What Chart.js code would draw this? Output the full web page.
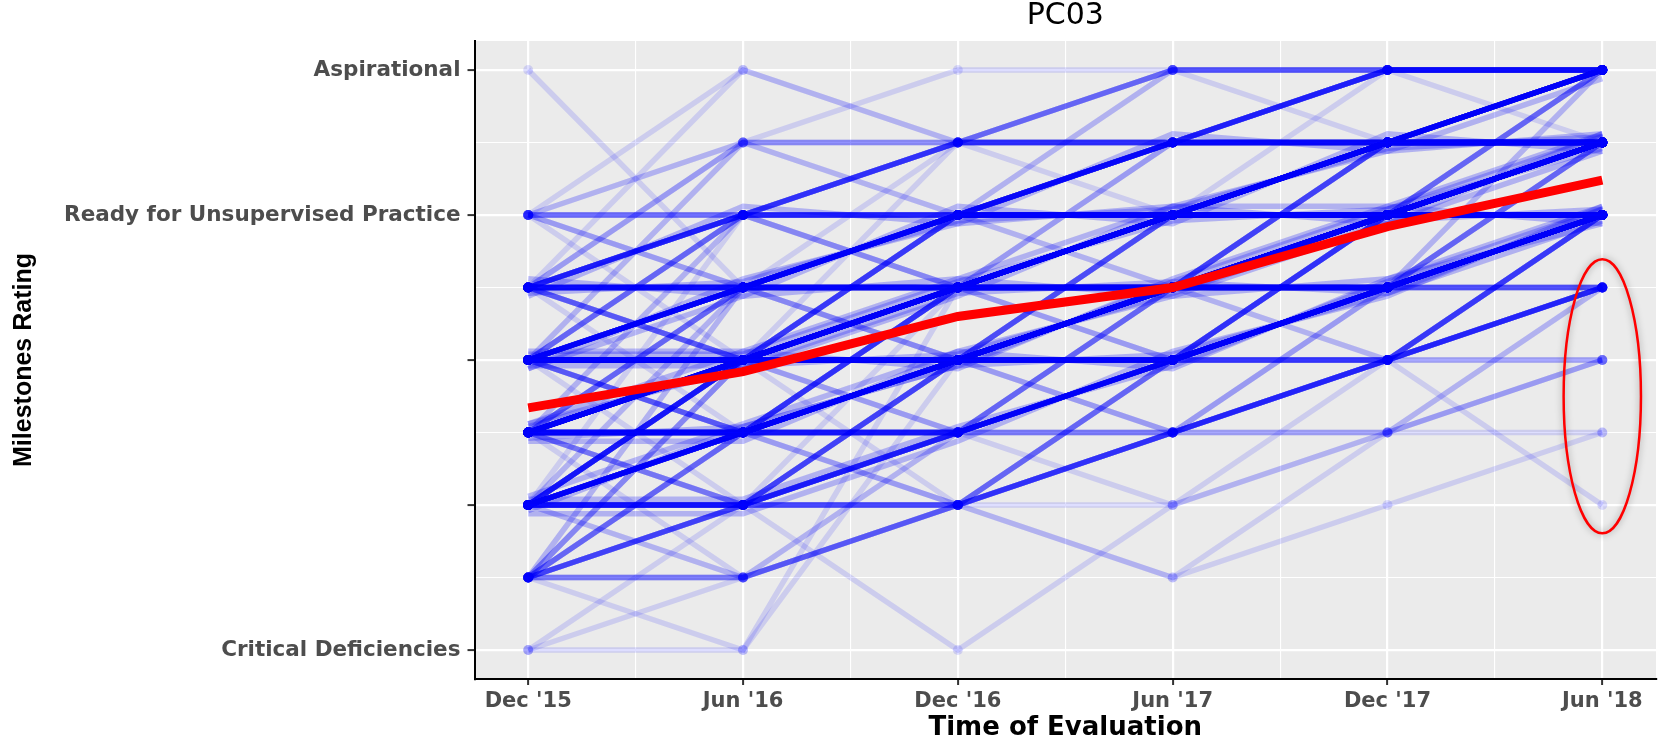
<!DOCTYPE html>
<html>
<head>
<meta charset="utf-8">
<title>PC03</title>
<script src="https://cdn.jsdelivr.net/npm/chart.js@4.4.1/dist/chart.umd.min.js"></script>
<style>
  html, body { margin: 0; padding: 0; background: #fff; }
  #wrap { width: 1661px; height: 742px; }
</style>
</head>
<body>
<div id="wrap"><canvas id="milestoneChart" width="1661" height="742"></canvas></div>
<script>
// ----- data -----
const months = ["Dec '15", "Jun '16", "Dec '16", "Jun '17", "Dec '17", "Jun '18"];
const xTickValues = [0, 0.5, 1, 1.5, 2, 2.5, 3, 3.5, 4, 4.5, 5];
const yTickValues = [1, 1.5, 2, 2.5, 3, 3.5, 4, 4.5, 5];
const yTickLabels = ['Critical Deficiencies', '', '', '', '', '', 'Ready for Unsupervised Practice', '', 'Aspirational'];

// mean milestone rating (red line)
const meanRating = [2.67, 2.92, 3.30, 3.50, 3.92, 4.24];

// resident trajectories (one rating per evaluation), with how many residents follow each one
const residentPaths = [
  [5, 3.5, 4.5, 4.5, 5, 5],

  [4, 4, 4.5, 4.5, 5, 5],
  [4, 4.5, 4, 4, 4.5, 5],
  [4, 4, 4, 4.5, 4.5, 5],
  [4, 3.5, 4, 4, 4.5, 4.5],
  [4, 5, 4.5, 5, 5, 5],
  [4, 3, 3.5, 4, 4, 4.5],
  [4, 4, 3.5, 4, 4.5, 4.5],
  [4, 3.5, 3, 3.5, 4, 4],
  [4, 4, 4.5, 5, 5, 5],
  [4, 4.5, 4.5, 4.5, 4.5, 5],

  [3.5, 3.5, 4, 4, 4.5, 4.5],
  [3.5, 4, 4, 4.5, 4.5, 5],
  [3.5, 3.5, 3.5, 4, 4, 4.5],
  [3.5, 3, 3.5, 3.5, 4, 4],
  [3.5, 4, 4.5, 4, 5, 5],
  [3.5, 3.5, 4, 5, 4.5, 5],
  [3.5, 2.5, 3, 3.5, 4, 4],
  [3.5, 4.5, 4, 4, 4, 4.5],
  [3.5, 5, 4.5, 4.5, 5, 5],
  [3.5, 3, 3, 3.5, 3.5, 4],
  [3.5, 3.5, 4, 4.5, 5, 5],
  [3.5, 4, 3.5, 4, 4.5, 4.5],
  [3.5, 3.5, 3, 3.5, 4, 4.5],
  [3.5, 4, 4, 4, 4.5, 4.5],
  [3.5, 3, 4, 4, 4, 4],
  [3.5, 3.5, 3.5, 3.5, 3.5, 5],
  [3.5, 4.5, 4.5, 5, 5, 5],
  [3.5, 3.5, 4, 5, 5, 5],
  [3.5, 3.5, 4, 4, 4, 5],
  [3.5, 3, 2.5, 3, 3.5, 4],
  [3.5, 4, 3.5, 3, 3.5, 4],
  [3.5, 4, 4.5, 4.5, 4.5, 5],
  [3.5, 4, 4.5, 4.5, 5, 5],
  [3.5, 4.5, 4.5, 4.5, 5, 5],
  [3.46, 3.54, 3.96, 4.04, 4.46, 4.54],
  [3.56, 3.44, 4.06, 3.94, 4.56, 4.44],
  [3.44, 4.06, 3.94, 4.56, 4.44, 4.94],

  [3, 3, 3.5, 3.5, 4, 4.5],
  [3, 3.5, 3.5, 4, 4, 4.5],
  [3, 3, 3, 3.5, 3.5, 4],
  [3, 3.5, 4, 4, 4.5, 4.5],
  [3, 2.5, 3, 3, 3.5, 4],
  [3, 3, 4, 4, 4.5, 5],
  [3, 4, 4.5, 4.5, 4.5, 5],
  [3, 2.5, 2.5, 3, 3, 3.5],
  [3, 3, 3.5, 3, 4, 4],
  [3, 3.5, 3, 3.5, 3.5, 4],
  [3, 2, 2.5, 3, 3.5, 4],
  [3, 4.5, 5, 5, 5, 4.5],
  [3, 3, 2.5, 3.5, 3, 3.5],
  [3, 2.5, 2, 2.5, 3, 3],
  [3, 3, 3.5, 4, 4.5, 4.5],
  [3, 3.5, 4, 4.5, 4.5, 5],
  [3, 3, 3, 4, 4, 4],
  [3, 4, 4, 4.5, 5, 5],
  [3, 3.5, 3.5, 3.5, 4, 4],
  [3, 2.5, 3.5, 3.5, 4, 4.5],
  [3, 3, 4, 3.5, 4, 4],
  [3, 3, 3, 3, 3.5, 5],
  [3, 4, 4, 4, 4.5, 4.5],
  [3, 3, 4.5, 4.5, 4.5, 5],
  [3, 3, 3, 4, 4.5, 4.5],
  [3, 3, 3.5, 4.5, 4.5, 5],
  [3, 3, 3, 3.5, 4.5, 4.5],
  [3, 3.5, 3.5, 3.5, 4.5, 5],
  [3, 3, 3.5, 3.5, 3.5, 4.5],
  [3, 3.5, 3.5, 4, 4, 5],
  [3, 3, 3.5, 4, 4, 5],
  [3, 3.5, 4, 3.5, 3.5, 4],
  [3, 2.5, 3, 2.5, 3.5, 4],
  [3, 3.5, 4, 4.5, 4.5, 4.5],
  [3, 4, 4.5, 5, 5, 5],
  [3, 3.5, 4, 4, 4, 4.5],
  [3, 3.5, 4, 4.5, 5, 5],
  [3, 3, 3.5, 4, 4, 4],
  [3, 3, 3, 3.5, 3.5, 3.5],
  [3, 4.5, 4.5, 5, 5, 5],
  [2.96, 2.96, 3.46, 3.54, 4.04, 4.46],
  [3.04, 3.04, 3.54, 3.96, 4.04, 4.54],
  [3.06, 3.06, 3.56, 3.44, 3.94, 4.56],
  [2.94, 3.44, 3.56, 4.06, 3.94, 4.44],
  [2.94, 3.56, 3.94, 4.06, 4.44, 4.56],

  [2.5, 3, 3, 3.5, 4, 4],
  [2.5, 2.5, 3, 3.5, 3.5, 4],
  [2.5, 3, 3.5, 4, 4, 4.5],
  [2.5, 2.5, 2.5, 3, 3.5, 4],
  [2.5, 3, 3.5, 3.5, 4, 4.5],
  [2.5, 2, 2.5, 3, 3, 3.5],
  [2.5, 3.5, 4, 4, 4.5, 4.5],
  [2.5, 2, 3, 3, 3.5, 3.5],
  [2.5, 3, 3, 2.5, 3, 3],
  [2.5, 1.5, 2, 2.5, 3, 4],
  [2.5, 4, 4.5, 5, 5, 5],
  [2.5, 3, 2, 3, 3.5, 4],
  [2.5, 2.5, 3, 3, 4, 4],
  [2.5, 3, 3, 3.5, 4.5, 4.5],
  [2.5, 3.5, 3.5, 4, 4.5, 5],
  [2.5, 2.5, 3.5, 3.5, 4, 4],
  [2.5, 3, 4, 4, 4, 4.5],
  [2.5, 2, 2, 3, 3, 4],
  [2.5, 2.5, 2.5, 3.5, 4, 4.5],
  [2.5, 3, 3, 3, 3.5, 4],
  [2.5, 3.5, 3.5, 4, 4, 4.5],
  [2.5, 4, 4, 4.5, 4.5, 5],
  [2.5, 2.5, 3.5, 4, 4, 4.5],
  [2.5, 3, 4, 4.5, 4.5, 5],
  [2.5, 2.5, 2.5, 3.5, 4, 4],
  [2.5, 3, 3, 4, 4, 4],
  [2.5, 2.5, 3, 3, 4, 4.5],
  [2.5, 3, 3, 3.5, 4.5, 5],
  [2.5, 2.5, 3, 3, 3, 4],
  [2.5, 3, 3, 3.5, 3.5, 4.5],
  [2.5, 3, 3.5, 3.5, 3.5, 4.5],
  [2.5, 2.5, 3, 3.5, 3, 4],
  [2.5, 2.5, 3, 2.5, 3, 3.5],
  [2.5, 3, 3.5, 4, 4.5, 4.5],
  [2.5, 3, 3.5, 4, 4, 4],
  [2.5, 3, 3.5, 4.5, 4.5, 5],
  [2.5, 3, 3, 3, 3.5, 3.5],
  [2.5, 2, 2, 2.5, 2.5, 3.5],
  [2.5, 2.5, 2.5, 2.5, 3, 4],
  [2.5, 3, 2.5, 3, 3, 3.5],
  [2.54, 2.96, 3.04, 3.46, 3.96, 4.04],
  [2.46, 2.54, 2.96, 3.54, 3.46, 4.04],
  [2.56, 3.06, 2.94, 3.56, 4.06, 3.94],
  [2.44, 2.44, 3.06, 3.44, 3.56, 4.06],
  [2.56, 2.94, 3.44, 4.06, 4.06, 4.56],

  [2, 2.5, 3, 3, 3.5, 4],
  [2, 2, 2.5, 3, 3.5, 4],
  [2, 2.5, 3, 3.5, 4, 4],
  [2, 3, 3.5, 3.5, 4, 4.5],
  [2, 2, 2, 2.5, 3, 3.5],
  [2, 1.5, 2.5, 2.5, 3, 3],
  [2, 2.5, 2.5, 2, 2.5, 2.5],
  [2, 3.5, 4, 4.5, 4.5, 5],
  [2, 2.5, 3.5, 4, 4.5, 4.5],
  [2, 2, 1, 2, 2.5, 3],
  [2, 1.5, 2, 3, 3, 2],
  [2, 3, 3, 3.5, 4, 4],
  [2, 2.5, 2.5, 3, 3.5, 3.5],
  [2, 3, 4, 4, 4, 4.5],
  [2, 2, 3, 3.5, 3.5, 4],
  [2, 3, 3.5, 4, 4.5, 4.5],
  [2, 4, 4, 4.5, 4.5, 4.5],
  [2, 2, 3, 3, 3.5, 4],
  [2, 3.5, 3.5, 4, 4.5, 5],
  [2, 3, 3, 4, 4, 4.5],
  [2, 3, 3, 3, 4, 4],
  [2, 2, 3.5, 3.5, 4, 4],
  [2, 2.5, 3.5, 3.5, 4, 4.5],
  [2, 2.5, 2.5, 3.5, 3.5, 4],
  [2, 2, 2, 3, 3.5, 4],
  [2, 2.5, 3, 3, 4, 4],
  [2, 2, 2.5, 2.5, 3.5, 4],
  [2, 2.5, 3, 3, 3, 4],
  [2, 2.5, 2.5, 3, 3, 4],
  [2, 2, 2, 2, 3, 4],
  [2, 2.5, 2, 1.5, 2.5, 3.5],
  [2, 2, 2.5, 2.5, 2.5, 3],
  [2, 2.5, 2, 2.5, 3, 3.5],
  [1.96, 2.54, 2.96, 3.04, 3.46, 3.96],
  [2.04, 2.04, 2.54, 2.96, 3.54, 4.04],
  [2.06, 2.56, 3.06, 2.94, 3.56, 3.94],
  [1.94, 1.94, 2.44, 3.06, 3.44, 4.06],

  [1.5, 2, 2.5, 3, 3.5, 4],
  [1.5, 1.5, 2, 2.5, 3, 3.5],
  [1.5, 2.5, 3, 3.5, 4, 4],
  [1.5, 2, 2, 1.5, 2, 2.5],
  [1.5, 1, 3, 3.5, 4, 4.5],
  [1.5, 1.5, 2, 2.5, 2.5, 3],
  [1.5, 3, 3, 3.5, 4, 4],
  [1.5, 3.5, 3.5, 4, 4, 4.5],
  [1.5, 2, 3, 3, 3.5, 4],
  [1.5, 1.5, 2.5, 3, 3.5, 4],
  [1.5, 2.5, 2.5, 3, 3, 3.5],
  [1.5, 3, 3.5, 4, 4.5, 4.5],
  [1.5, 2.5, 3.5, 3.5, 4, 4.5],
  [1.5, 2, 3, 3.5, 4, 4],
  [1.5, 2, 2, 2.5, 3, 4],

  [1, 1, 3.5, 3.5, 4, 4],
  [1, 1.5, 2, 3, 3.5, 4],
  [1, 2, 2.5, 3, 3.5, 3.5]
];
const pathCounts = [
  1,
  2, 1, 2, 2, 1, 1, 1, 1, 1, 1,
  6, 4, 5, 3, 1, 1, 1, 1, 1, 2, 3, 2, 2, 2, 1, 1, 1, 1, 2, 1, 1, 2, 2, 1, 2, 2, 2,
  7, 6, 5, 4, 3, 2, 1, 1, 2, 1, 1, 1, 1, 1, 4, 2, 2, 2, 2, 1, 1, 1,
  2, 1, 2, 2, 2, 2, 2, 2, 2, 1, 1, 2, 1, 2, 2, 2, 2, 1,
  2, 2, 2, 2, 2,
  7, 6, 5, 4, 4, 2, 2, 1, 1, 1, 1, 1, 3, 3, 2, 2, 2, 1, 1, 1,
  2, 1, 2, 2, 2, 2, 2, 2, 2, 2, 2, 1, 1, 3, 2, 1, 1, 1, 1, 1,
  2, 2, 2, 2, 2,
  6, 5, 5, 4, 2, 1, 1, 1, 2, 1, 1, 4, 3, 2, 3, 2, 1, 1,
  1, 2, 2, 1, 2, 2, 2, 2, 2, 1, 1, 1, 1, 1, 1,
  2, 2, 2, 2,
  3, 3, 3, 1, 1, 1, 2, 2, 2, 1, 1, 2, 2, 2, 1,
  1, 1, 1
];

// circled annotation around the Jun '18 low ratings (data units)
const noteCenter = { x: 5, y: 2.75 };
const noteRadius = { x: 0.18, y: 0.945 };

// ----- chart -----
const residentColor = 'rgba(0, 0, 255, 0.13)';
const isWhole = v => Math.abs(v - Math.round(v)) < 1e-6;
const onLevel = v => isWhole(v * 2);

const datasets = [];
datasets.push({
  label: 'Mean',
  data: meanRating.map((v, t) => ({ x: t, y: v })),
  borderColor: '#FF0000',
  borderWidth: 9,
  pointRadius: 0,
  order: 0
});
residentPaths.forEach(function(path, i) {
  for (let k = 0; k < pathCounts[i]; k++) {
    datasets.push({
      data: path.map((v, t) => ({ x: t, y: v })),
      borderColor: residentColor,
      backgroundColor: residentColor,
      borderWidth: 5.5,
      // dots only where the rating sits on a scale level
      pointRadius: path.map(v => onLevel(v) ? 5 : 0),
      pointBorderWidth: 0,
      pointBackgroundColor: residentColor,
      order: 1
    });
  }
});

const panelBackground = {
  id: 'panelBackground',
  beforeDraw(chart) {
    const a = chart.chartArea, c = chart.ctx;
    c.save();
    c.fillStyle = '#EBEBEB';
    c.fillRect(a.left, a.top, a.right - a.left, a.bottom - a.top);
    c.restore();
  }
};

const circleNote = {
  id: 'circleNote',
  afterDatasetsDraw(chart) {
    const c = chart.ctx, xs = chart.scales.x, ys = chart.scales.y;
    const cx = xs.getPixelForValue(noteCenter.x);
    const cy = ys.getPixelForValue(noteCenter.y);
    const rx = Math.abs(xs.getPixelForValue(noteCenter.x + noteRadius.x) - cx);
    const ry = Math.abs(ys.getPixelForValue(noteCenter.y + noteRadius.y) - cy);
    c.save();
    c.shadowColor = 'rgba(0,0,0,0.35)';
    c.shadowBlur = 7;
    c.strokeStyle = '#FF0000';
    c.lineWidth = 2.5;
    c.beginPath();
    c.ellipse(cx, cy, rx, ry, 0, 0, Math.PI * 2);
    c.stroke();
    c.restore();
  }
};

new Chart(document.getElementById('milestoneChart').getContext('2d'), {
  type: 'line',
  data: { datasets: datasets },
  options: {
    responsive: false,
    animation: false,
    devicePixelRatio: 1,
    layout: { padding: { left: 0, right: 4.5, top: 0, bottom: 0 } },
    scales: {
      x: {
        type: 'linear',
        min: -0.25,
        max: 5.25,
        afterBuildTicks: s => { s.ticks = xTickValues.map(v => ({ value: v })); },
        afterFit: s => { s.height = 63; },
        grid: {
          color: '#FFFFFF',
          lineWidth: ctx => isWhole(ctx.tick.value) ? 2.2 : 1.1,
          tickLength: 6,
          tickWidth: 2,
          tickColor: ctx => isWhole(ctx.tick.value) ? '#333333' : 'rgba(0,0,0,0)'
        },
        border: { display: true, color: '#000000', width: 2 },
        ticks: {
          autoSkip: false,
          maxRotation: 0,
          padding: 4,
          color: '#4D4D4D',
          font: { family: 'DejaVu Sans', size: 21, weight: 'bold' },
          callback: v => isWhole(v) ? months[Math.round(v)] : ''
        },
        title: {
          display: true,
          text: 'Time of Evaluation',
          color: '#000000',
          font: { family: 'DejaVu Sans', size: 26, weight: 'bold', lineHeight: 1 },
          padding: { top: 0, bottom: 1 }
        }
      },
      y: {
        type: 'linear',
        min: 0.8,
        max: 5.2,
        afterBuildTicks: s => { s.ticks = yTickValues.map(v => ({ value: v })); },
        afterFit: s => { s.width = 474.5; },
        grid: {
          color: '#FFFFFF',
          lineWidth: ctx => isWhole(ctx.tick.value) ? 2.2 : 1.1,
          tickLength: 7,
          tickWidth: 2,
          tickColor: ctx => isWhole(ctx.tick.value) ? '#333333' : 'rgba(0,0,0,0)'
        },
        border: { display: true, color: '#000000', width: 2 },
        ticks: {
          autoSkip: false,
          padding: 7,
          color: '#4D4D4D',
          font: { family: 'DejaVu Sans', size: 21.5, weight: 'bold' },
          callback: v => yTickLabels[yTickValues.indexOf(v)] || ''
        },
        title: {
          display: true,
          text: 'Milestones Rating',
          color: '#000000',
          font: { family: 'Liberation Sans', size: 25, weight: 'bold', lineHeight: 1 },
          padding: { top: 11.5, bottom: 0 }
        }
      }
    },
    plugins: {
      legend: { display: false },
      tooltip: { enabled: false },
      title: {
        display: true,
        text: 'PC03',
        fullSize: false,
        color: '#000000',
        font: { family: 'DejaVu Sans', size: 30, weight: 'normal', lineHeight: 1 },
        padding: { top: 1, bottom: 10 }
      }
    }
  },
  plugins: [panelBackground, circleNote]
});
</script>
</body>
</html>
